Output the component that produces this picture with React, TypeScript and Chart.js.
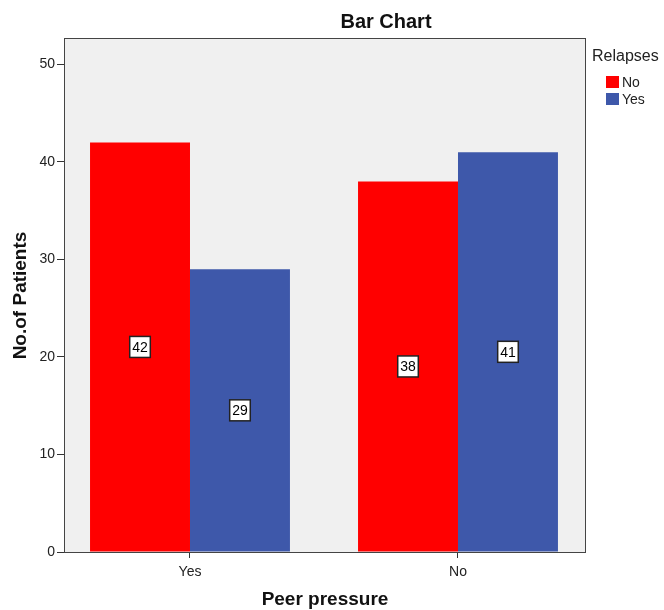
import React, { useEffect, useRef } from "react";
import { Chart, registerables } from "chart.js";

Chart.register(...registerables);

const categories = ["Yes", "No"];
const seriesNames = ["No", "Yes"];
const relapseNo = [42, 38];
const relapseYes = [29, 41];
const yTicks = [0, 10, 20, 30, 40, 50];
const chartTitle = "Bar Chart";
const xTitle = "Peer pressure";
const yTitle = "No.of Patients";
const legendTitle = "Relapses";

const FONT = "'Liberation Sans', Arial, sans-serif";

const customPlugin = {
  id: "spssDecor",
  beforeDraw(chart: any) {
    const { ctx, chartArea: a } = chart;
    ctx.save();
    ctx.fillStyle = "#f0f0f0";
    ctx.fillRect(a.left, a.top, a.right - a.left, a.bottom - a.top);
    ctx.restore();
  },
  afterDraw(chart: any) {
    const { ctx, chartArea: a } = chart;
    ctx.save();
    ctx.strokeStyle = "#444";
    ctx.lineWidth = 1;
    ctx.strokeRect(a.left - 0.5, a.top - 0.5, a.right - a.left + 1, a.bottom - a.top + 1);

    ctx.font = `14px ${FONT}`;
    ctx.textAlign = "center";
    ctx.textBaseline = "middle";
    chart.data.datasets.forEach((ds: any, di: number) => {
      const meta = chart.getDatasetMeta(di);
      meta.data.forEach((bar: any, i: number) => {
        const v = ds.data[i].y;
        const txt = String(v);
        const cy = (bar.y + bar.base) / 2;
        const cx = bar.x;
        const w = ctx.measureText(txt).width + 5;
        const h = 21;
        ctx.fillStyle = "#fff";
        ctx.fillRect(cx - w / 2, cy - h / 2, w, h);
        ctx.strokeStyle = "#222";
        ctx.lineWidth = 1.5;
        ctx.strokeRect(cx - w / 2, cy - h / 2, w, h);
        ctx.fillStyle = "#000";
        ctx.fillText(txt, cx, cy + 1);
      });
    });

    ctx.fillStyle = "#111";
    ctx.font = `bold 20px ${FONT}`;
    ctx.textAlign = "center";
    ctx.textBaseline = "middle";
    ctx.fillText(chartTitle, 386, 22);

    ctx.font = `bold 19px ${FONT}`;
    ctx.fillText(xTitle, (a.left + a.right) / 2, 600);

    ctx.save();
    ctx.translate(21, (a.top + a.bottom) / 2);
    ctx.rotate(-Math.PI / 2);
    ctx.fillText(yTitle, 0, 0);
    ctx.restore();

    ctx.textAlign = "left";
    ctx.font = `16px ${FONT}`;
    ctx.fillStyle = "#222";
    ctx.fillText(legendTitle, 592, 57);
    ctx.font = `14px ${FONT}`;
    chart.data.datasets.forEach((ds: any, di: number) => {
      const y = 76 + di * 17;
      ctx.fillStyle = ds.backgroundColor;
      ctx.fillRect(606, y, 13, 12);
      ctx.fillStyle = "#222";
      ctx.fillText(ds.label, 622, y + 7);
    });
    ctx.restore();
  },
};

export default function App() {
  const ref = useRef<HTMLCanvasElement>(null);
  useEffect(() => {
    if (!ref.current) return;
    const chart = new Chart(ref.current, {
      type: "bar",
      data: {
        datasets: [
          { label: seriesNames[0], data: relapseNo.map((v, i) => ({ x: i, y: v })), backgroundColor: "#ff0000", borderWidth: 0 },
          { label: seriesNames[1], data: relapseYes.map((v, i) => ({ x: i, y: v })), backgroundColor: "#3e58aa", borderWidth: 0 },
        ],
      },
      options: {
        animation: false,
        responsive: false,
        devicePixelRatio: 1,
        layout: { padding: { left: 0, right: 79, top: 39, bottom: 0 } },
        categoryPercentage: 0.746,
        barPercentage: 1,
        plugins: { legend: { display: false }, tooltip: { enabled: false }, title: { display: false } },
        scales: {
          x: {
            type: "linear",
            min: -0.4664,
            max: 1.4739,
            offset: false,
            afterBuildTicks: (s: any) => { s.ticks = categories.map((_, i) => ({ value: i })); },
            grid: { offset: false, drawOnChartArea: false, drawTicks: true, tickLength: 6, color: "#333" },
            border: { display: false },
            ticks: {
              color: "#222",
              font: { family: FONT, size: 14 },
              padding: 6,
              callback: (v: any) => categories[v] ?? "",
            },
            afterFit: (s: any) => { s.height = 58; },
          },
          y: {
            min: 0,
            max: 52.6,
            afterBuildTicks: (s: any) => { s.ticks = yTicks.map((v) => ({ value: v })); },
            grid: { drawOnChartArea: false, drawTicks: true, tickLength: 8, color: "#333" },
            border: { display: false },
            ticks: { color: "#222", font: { family: FONT, size: 14 }, padding: 2 },
            afterFit: (s: any) => { s.width = 65; },
          },
        },
      },
      plugins: [customPlugin],
    } as any);
    return () => chart.destroy();
  }, []);
  return (
    <div style={{ position: "fixed", left: 0, top: 0, width: 664, height: 610, background: "#fff" }}>
      <canvas ref={ref} width={664} height={610} />
    </div>
  );
}
